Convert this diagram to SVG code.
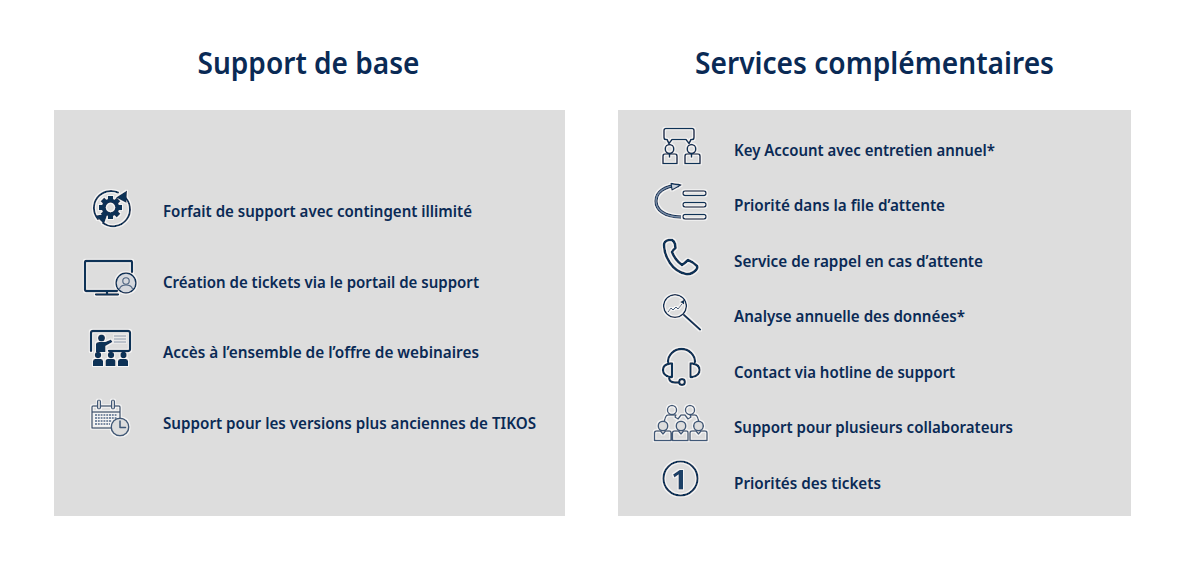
<svg xmlns="http://www.w3.org/2000/svg" width="1183" height="567" viewBox="0 0 1183 567">
<style>
text{font-family:"Noto Sans","Open Sans","Liberation Sans",sans-serif;fill:#0a2a55}
.h{font-size:30px;font-weight:600;text-anchor:middle}
.t{font-size:16px;font-weight:600}
.i{filter:url(#halo)}
.s{fill:none;stroke:#0f3057;stroke-width:2.300;stroke-linecap:round;stroke-linejoin:round}
.m{fill:none;stroke:#0f3057;stroke-width:1.700;stroke-linecap:round;stroke-linejoin:round}
.n{fill:none;stroke:#0f3057;stroke-width:1.500;stroke-linecap:round;stroke-linejoin:round}
.g{fill:none;stroke:#3f5877;stroke-width:1.500;stroke-linecap:round;stroke-linejoin:round}
.f{fill:#0f3057}
</style>
<defs>
<filter id="halo" x="-15%" y="-15%" width="130%" height="130%">
<feMorphology in="SourceAlpha" operator="dilate" radius="0.7" result="d"/>
<feGaussianBlur in="d" stdDeviation="0.5" result="b"/>
<feFlood flood-color="#ffffff" flood-opacity="0.7"/>
<feComposite in2="b" operator="in" result="w"/>
<feGaussianBlur in="SourceGraphic" stdDeviation="0.25" result="src"/>
<feMerge><feMergeNode in="w"/><feMergeNode in="src"/></feMerge>
</filter>
<rect id="tooth" x="-2.600" y="-11.500" width="5.200" height="5" class="f"/>
</defs>
<rect width="1183" height="567" fill="#fff"/>
<rect x="54" y="110" width="511" height="406" fill="#dddddd"/>
<rect x="618" y="110" width="513" height="406" fill="#dddddd"/>
<text class="h" x="308.500" y="73.500" textLength="222" lengthAdjust="spacingAndGlyphs">Support de base</text>
<text class="h" x="874.500" y="73.500" textLength="359" lengthAdjust="spacingAndGlyphs">Services complémentaires</text>

<g id="row-forfait">
<g class="i">
<path class="s" d="M98 219A17 17 0 0 1 118 192.500M123 195.500A17 17 0 0 1 103 223" style="stroke-width:2"/>
<path class="f" d="M116 197.500l11-7-.5 12.500zM104 224l-9-8.500 12.500-1.500z"/>
<circle cx="110.500" cy="207.500" r="6.800" fill="none" stroke="#0f3057" stroke-width="4.200"/>
<g transform="translate(110.500 207.500)"><use href="#tooth"/><use href="#tooth" transform="rotate(45)"/><use href="#tooth" transform="rotate(90)"/><use href="#tooth" transform="rotate(135)"/><use href="#tooth" transform="rotate(180)"/><use href="#tooth" transform="rotate(225)"/><use href="#tooth" transform="rotate(270)"/><use href="#tooth" transform="rotate(315)"/></g>
</g>
<text class="t" x="163" y="217" textLength="309" lengthAdjust="spacingAndGlyphs">Forfait de support avec contingent illimité</text>
</g>
<g id="row-tickets">
<g class="i">
<path class="s" d="M132 272v-10q0-1-1-1H86q-1 0-1 1v28q0 1 1 1h31M107 291v3M96 294.500h22"/>
<circle cx="126" cy="283" r="10" fill="#d5d8dd" stroke="#0f3057" stroke-width="1.500"/>
<circle cx="126" cy="281" r="3.200" fill="none" stroke="#4a617f" stroke-width="1.100"/>
<path d="M119.500 289q1-4 6.500-4t6.500 4" fill="none" stroke="#4a617f" stroke-width="1.100"/>
</g>
<text class="t" x="163" y="288" textLength="316" lengthAdjust="spacingAndGlyphs">Création de tickets via le portail de support</text>
</g>
<g id="row-webinaires">
<g class="i">
<path class="s" d="M91 351v-18q0-2 2-2h35q2 0 2 2v16q0 2-2 2h-19"/>
<circle class="f" cx="101.500" cy="338" r="3.500"/>
<path class="f" d="M96 352v-8q0-2 3-2h6l6-2.500 1.500 2.500-7 4v6z"/>
<path d="M114 336h12M114 339h12M114 342h12" stroke="#7d8ea5" stroke-width="1"/>
<circle class="f" cx="98" cy="355" r="3.200"/><circle class="f" cx="111" cy="355" r="3.200"/><circle class="f" cx="123.500" cy="355" r="3.200"/>
<path class="f" d="M93 366v-5q0-2 2-2h6q2 0 2 2v5zM105.500 366v-5q0-2 2-2h6q2 0 2 2v5zM118 366v-5q0-2 2-2h6q2 0 2 2v5z"/>
</g>
<text class="t" x="163" y="358" textLength="316" lengthAdjust="spacingAndGlyphs">Accès à l’ensemble de l’offre de webinaires</text>
</g>
<g id="row-versions">
<g class="i">
<path class="g" d="M112 428H92v-21q0-1 1-1h26q1 0 1 1v12M92 412h28"/>
<rect x="97.500" y="400" width="3" height="9" rx="1.500" fill="#dddddd" stroke="#3f5877" stroke-width="1.200"/><rect x="111.500" y="400" width="3" height="9" rx="1.500" fill="#dddddd" stroke="#3f5877" stroke-width="1.200"/>
<path d="M95 415h22M95 418h22M95 421h17M95 424h15" stroke="#7a8ba3" stroke-width="2" stroke-dasharray="2 .8"/>
<circle cx="120" cy="427" r="8.800" fill="#dddddd" stroke="#3f5877" stroke-width="1.500"/>
<path class="g" d="M120 421v6.500h5.500"/>
</g>
<text class="t" x="163" y="429" textLength="373" lengthAdjust="spacingAndGlyphs">Support pour les versions plus anciennes de TIKOS</text>
</g>

<g id="row-key-account">
<g class="i">
<path class="m" d="M670 128.500h22q2 0 2 2v7q0 2-2 2h-1l-2 4-3-4h-14l-3 4-2-4h-1q-2 0-2-2v-7q0-2 2-2z"/>
<circle class="m" cx="669.500" cy="149" r="4.300"/><circle class="m" cx="691.500" cy="149" r="4.300"/>
<path class="m" d="M663 163.500v-7.500q0-2 2-2h10q2 0 2 2v7.500zM685 163.500v-7.500q0-2 2-2h11q2 0 2 2v7.500zM669.500 154v3M691.500 154v3"/>
</g>
<text class="t" x="734" y="155.500" textLength="261" lengthAdjust="spacingAndGlyphs">Key Account avec entretien annuel*</text>
</g>
<g id="row-priorite">
<g class="i">
<path d="M679 185.500c-15 0-23 7-23 15.500s8 16 25 16" fill="none" stroke="#0f3057" stroke-width="3.400"/>
<path d="M679 185.500c-15 0-23 7-23 15.500s8 16 25 16" fill="none" stroke="#7d8ea5" stroke-width="1.400"/>
<path d="M671 183.500l10 1.500-9 5z" fill="#c9d0da" stroke="#0f3057" stroke-width="1.300" stroke-linejoin="round"/>
<rect class="n" x="683" y="191" width="23" height="4.500" rx="2.200"/><rect class="n" x="683" y="202.500" width="23" height="4.500" rx="2.200"/><rect class="n" x="683" y="214.500" width="23" height="4.500" rx="2.200"/>
</g>
<text class="t" x="734" y="211" textLength="211" lengthAdjust="spacingAndGlyphs">Priorité dans la file d’attente</text>
</g>
<g id="row-rappel">
<g class="i">
<path class="s" style="stroke-width:2.700" d="M664 245Q664 241 669 240L672 240Q674 241 675 244L675.500 248Q673 250 672 252Q675 260 682 265Q685 263 688 260Q693 262 697 266Q698 268 696 270Q691 275 686 274Q676 272 670 263Q664 254 664 245Z"/>
</g>
<text class="t" x="734" y="266.500" textLength="249" lengthAdjust="spacingAndGlyphs">Service de rappel en cas d’attente</text>
</g>
<g id="row-analyse">
<g class="i">
<circle class="n" cx="675" cy="306" r="11.300"/>
<path class="s" d="M684 315l16 14.500"/>
<path d="M668 312l3-4 2 2 3-3 2 2 4-5" fill="none" stroke="#3f5877" stroke-width="1"/>
<path class="f" d="M680 302l4.500-2.500-.5 5z"/>
</g>
<text class="t" x="734" y="322" textLength="231" lengthAdjust="spacingAndGlyphs">Analyse annuelle des données*</text>
</g>
<g id="row-hotline">
<g class="i">
<path class="s" d="M668 362a13.500 13 0 0 1 27 0M672 363.500h-2q-7 1-7 6.500t7 7h2zM690.500 363.500h2q7 1 7 6.500t-7 7h-2zM669 377q0 5.500 6 5.500h4"/>
<circle class="s" cx="682" cy="382" r="2.800"/>
</g>
<text class="t" x="734" y="378" textLength="221" lengthAdjust="spacingAndGlyphs">Contact via hotline de support</text>
</g>
<g id="row-collaborateurs">
<g class="i">
<circle class="g" cx="672" cy="410" r="4.500"/><circle class="g" cx="690" cy="410" r="4.500"/>
<path class="g" d="M664 424q1-9 4-9h8l-1 2 3 2 3-4h4l3 4 3-2-1-2h5q3 0 4 9"/>
<circle cx="663" cy="426" r="4.800" fill="#dddddd" stroke="#3f5877" stroke-width="1.500"/><circle cx="681" cy="426" r="4.800" fill="#dddddd" stroke="#3f5877" stroke-width="1.500"/><circle cx="698.500" cy="426" r="4.800" fill="#dddddd" stroke="#3f5877" stroke-width="1.500"/>
<path class="g" d="M654.500 440.500v-7.500q0-2 2-2h4l2.500 3 2.500-3h4q1.500 0 1.500 2v7.500zM672.500 440.500v-7.500q0-2 2-2h4l2.500 3 2.500-3h3q1.500 0 1.500 2v7.500zM690 440.500v-7.500q0-2 2-2h4l2.500 3 2.500-3h4q2 0 2 2v7.500z"/>
</g>
<text class="t" x="734" y="433" textLength="279" lengthAdjust="spacingAndGlyphs">Support pour plusieurs collaborateurs</text>
</g>
<g id="row-tickets-prio">
<g class="i">
<circle cx="680.500" cy="478.500" r="17" fill="none" stroke="#0f3057" stroke-width="2.200"/>
<path d="M678.500 489.500v-15l-4 3-1.500-3 6.500-4.500h3.500v19.500z" fill="#1f3f66"/>
</g>
<text class="t" x="734" y="488.500" textLength="147" lengthAdjust="spacingAndGlyphs">Priorités des tickets</text>
</g>
</svg>
